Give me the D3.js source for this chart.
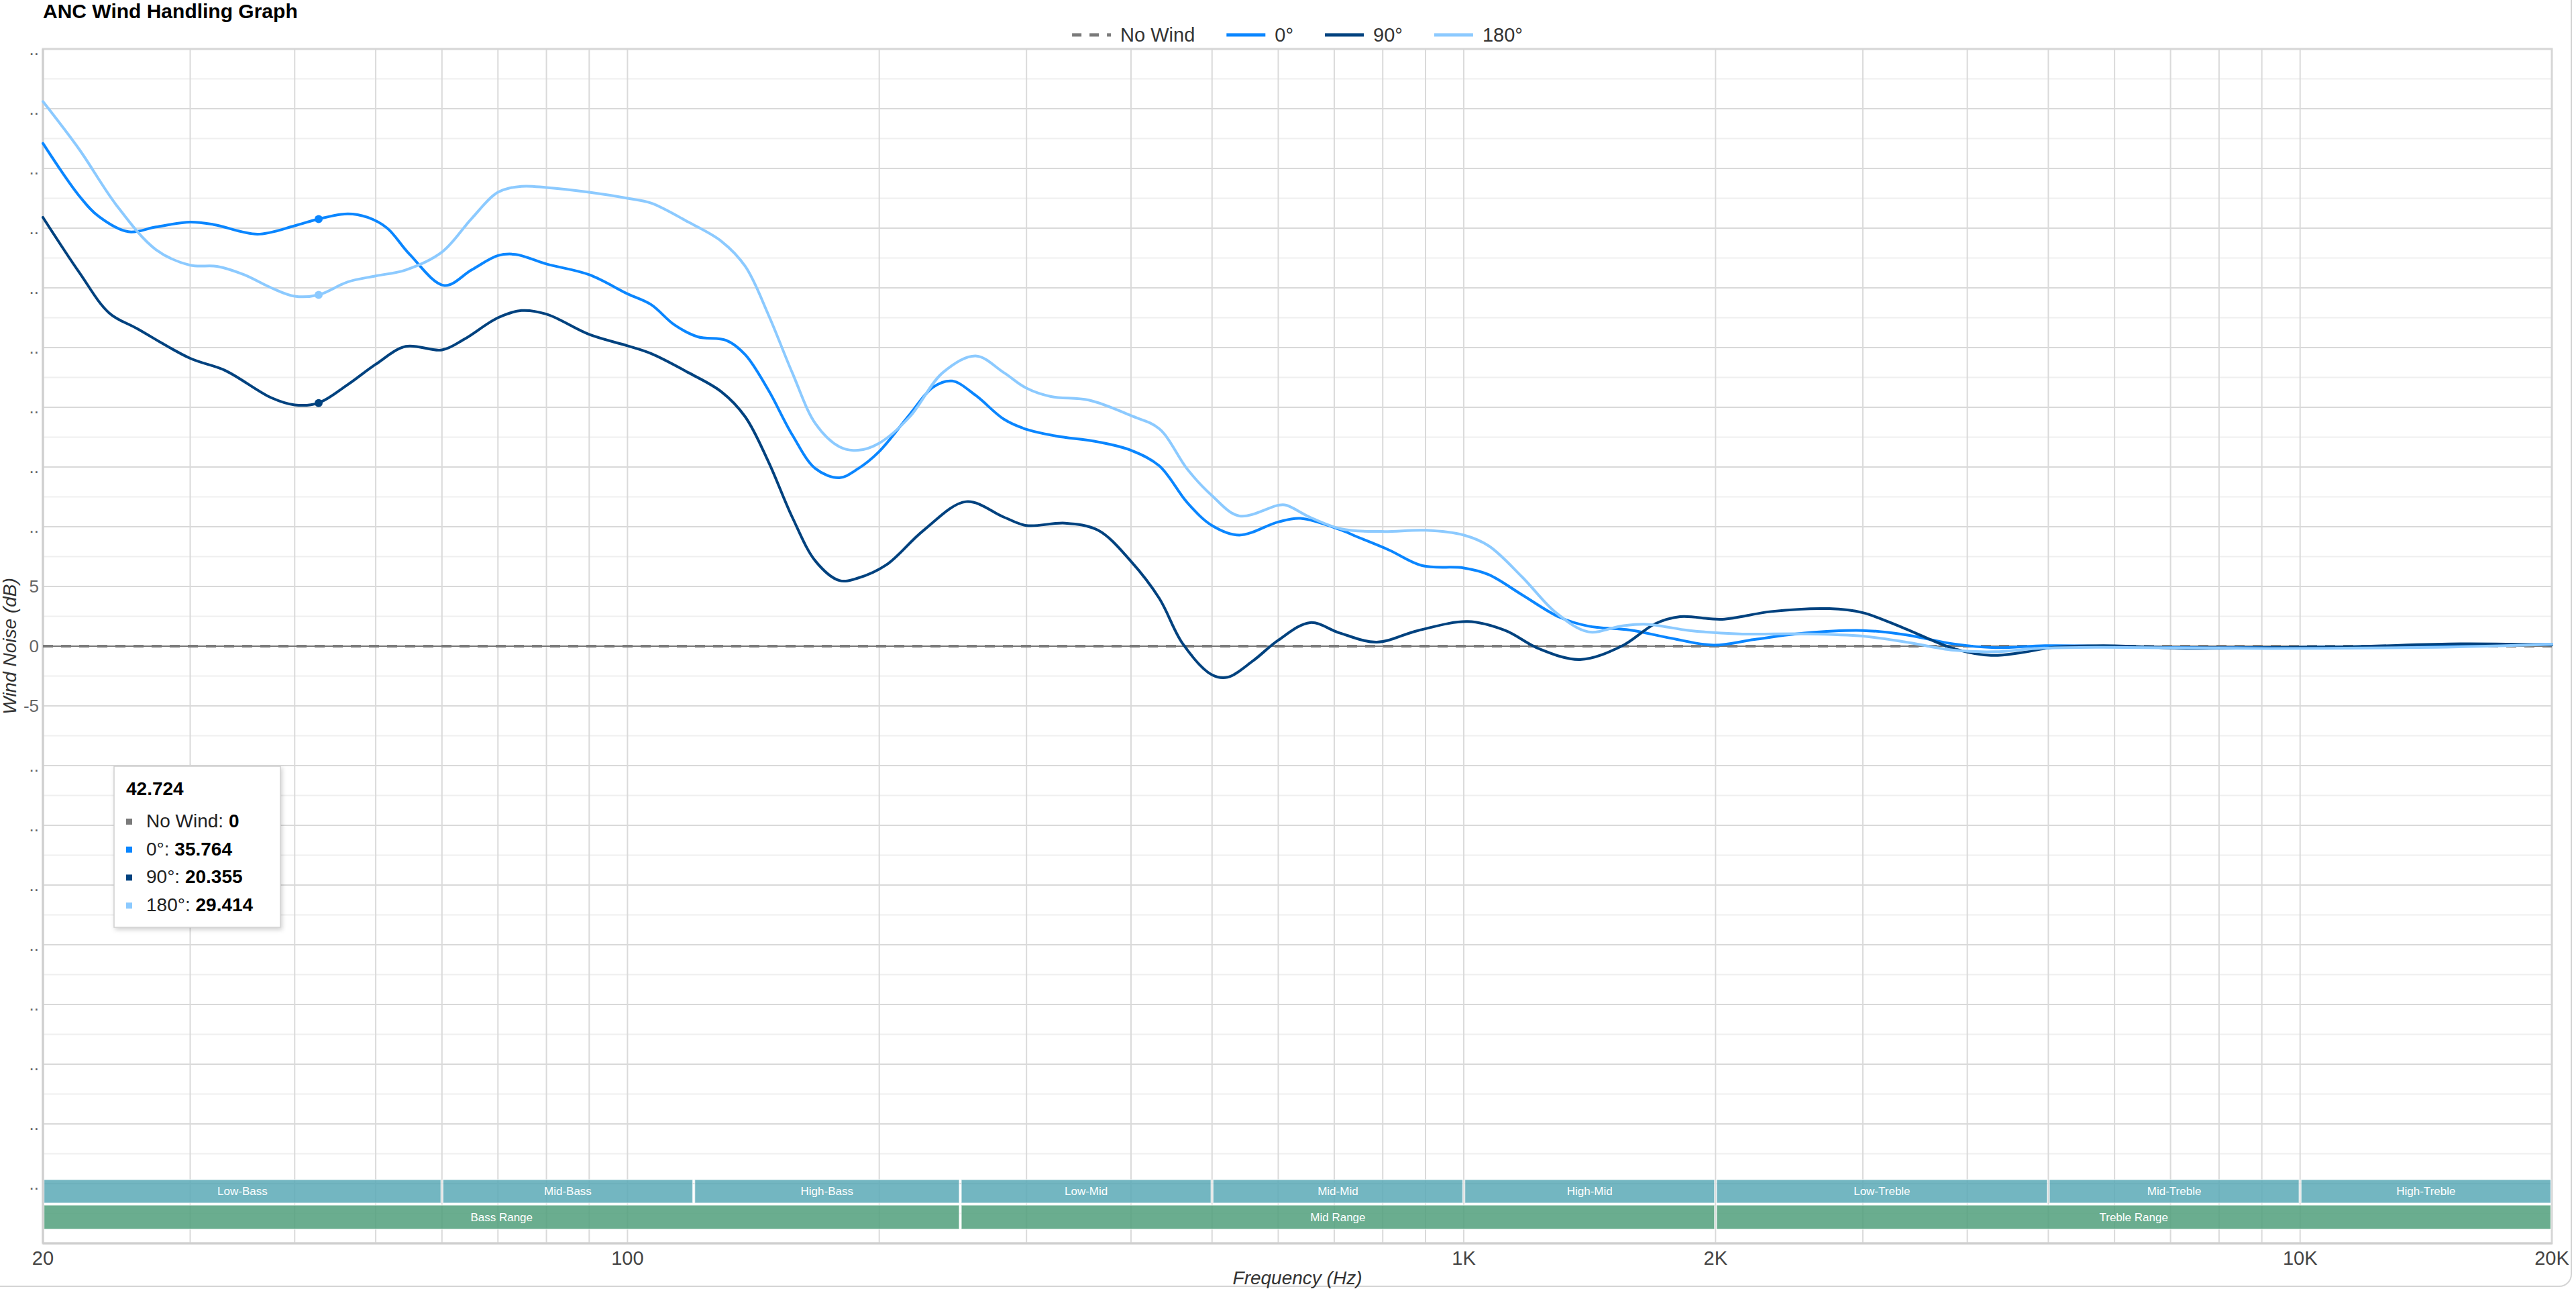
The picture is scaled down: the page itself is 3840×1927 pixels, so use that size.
<!DOCTYPE html>
<html>
<head>
<meta charset="utf-8">
<script src="https://cdn.jsdelivr.net/npm/d3@7/dist/d3.min.js"></script>
<style>
  html, body { margin: 0; padding: 0; background: #fff; }
  svg { display: block; font-family: "Liberation Sans", Arial, sans-serif; }
</style>
</head>
<body>
<svg id="chart" width="3840" height="1927"></svg>
<script>
// ---------------- DATA ----------------
const seriesNames  = ["No Wind", "0°", "90°", "180°"];
const seriesColors = ["#7a7a7a", "#0a86ff", "#00427f", "#8ccaff"];

const freqNoWind = [20, 20000];
const dbNoWind   = [0, 0];

const freq0 = [20, 22.1, 23.3, 25.3, 27.3, 30, 32, 36.1, 40, 42.7, 46.3, 48.9, 51.6, 54.9, 60.4, 65.1, 70, 73.5, 80, 90,
  100, 106.7, 113.8, 121.4, 131.3, 138.3, 147.5, 157.4, 167.9, 179.2, 188.6, 200, 217.5, 232.1, 244.5, 260.8, 281.9, 300,
  325.1, 365.4, 400, 432.4, 467.3, 500, 539, 600, 637.6, 714.9, 743, 814, 892, 1000, 1071, 1174, 1301, 1409, 1580, 1771,
  1990, 2226, 2554, 3000, 3362, 3853, 4317, 4954, 5816, 7312, 11545, 20000];
const db0 = [42.1, 37.7, 36.0, 34.7, 35.1, 35.5, 35.3, 34.5, 35.2, 35.76, 36.2, 35.9, 35.0, 32.8, 30.2, 31.5, 32.7, 32.8, 32.0, 31.1,
  29.5, 28.6, 26.9, 25.9, 25.6, 24.4, 21.4, 17.7, 14.85, 14.1, 14.85, 16.3, 19.4, 21.7, 22.2, 21.0, 19.0, 18.15,
  17.6, 17.1, 16.4, 15.1, 12.0, 10.1, 9.3, 10.4, 10.7, 9.7, 9.2, 8.05, 6.74, 6.55, 5.99, 4.3, 2.43, 1.68, 1.35, 0.66,
  0.09, 0.56, 1.09, 1.31, 0.97, 0.19, -0.13, 0.04, 0.0, -0.13, -0.06, 0.15];

const freq90 = [20, 22.1, 24.0, 25.9, 30, 33.0, 37.5, 40, 42.7, 46.3, 50, 54.3, 60, 63.8, 70, 74.7, 80, 90,
  100, 106.7, 118.3, 129.5, 138.3, 147.5, 157.4, 167.9, 179.2, 188.6, 203.9, 226, 254.1, 281.9, 300, 333.7, 365.4,
  400, 432.4, 461.3, 500, 521.9, 560.3, 600, 655, 709.6, 786.7, 881.8, 1011, 1121, 1228, 1377, 1544, 1693, 1814,
  2037, 2331, 2735, 3000, 3362, 3853, 4271, 4623, 5066, 5816, 7312, 9186, 11545, 15550, 20000];
const db90 = [35.9, 31.3, 27.9, 26.6, 24.1, 23.1, 20.8, 20.2, 20.36, 21.9, 23.6, 25.1, 24.8, 25.7, 27.5, 28.1, 27.8, 26.1,
  25.15, 24.5, 22.9, 21.3, 19.2, 15.4, 10.8, 7.1, 5.5, 5.7, 6.8, 9.7, 12.1, 10.8, 10.1, 10.3, 9.7,
  7.1, 4.0, 0.2, -2.4, -2.6, -1.2, 0.5, 1.97, 1.12, 0.34, 1.31, 2.06, 1.31, -0.19, -1.12, 0.0, 1.87, 2.47,
  2.25, 2.9, 3.14, 2.8, 1.5, -0.2, -0.77, -0.56, -0.1, 0.04, -0.19, -0.13, -0.04, 0.19, 0.1];

const freq180 = [20, 22.1, 24.5, 27.3, 30, 32.3, 34.8, 37.5, 40, 42.7, 46.3, 50, 54.3, 60, 65.1, 70, 74.7, 80, 90,
  100, 106.7, 118.3, 129.5, 138.3, 147.5, 157.4, 167.9, 179.2, 188.6, 200, 217.5, 238.2, 260.8, 281.9, 300, 320.9,
  356.1, 400, 432.4, 467.3, 500, 539, 600, 613.6, 654.6, 714.9, 800, 900, 1000, 1071, 1174, 1289, 1409, 1544, 1654,
  1862, 2134, 2554, 3000, 3362, 3853, 4317, 4840, 5816, 9186, 14510, 20000];
const db180 = [45.6, 41.6, 36.9, 33.2, 31.9, 31.8, 31.1, 30.0, 29.3, 29.41, 30.5, 31.0, 31.5, 33.0, 35.8, 38.0, 38.5, 38.4, 38.0,
  37.5, 37.1, 35.5, 33.9, 31.8, 27.7, 22.9, 18.6, 16.7, 16.4, 17.0, 19.2, 22.9, 24.3, 22.9, 21.6, 20.9,
  20.6, 19.3, 18.2, 14.8, 12.6, 10.9, 11.8, 11.8, 10.8, 9.8, 9.6, 9.7, 9.3, 8.4, 5.8, 2.8, 1.2, 1.69, 1.83,
  1.31, 1.03, 1.03, 0.84, 0.37, -0.34, -0.47, -0.19, -0.1, -0.19, -0.1, 0.15];

// x-axis tick labels
const xTickValues = [20, 100, 1000, 2000, 10000, 20000];
const xTickLabels = ["20", "100", "1K", "2K", "10K", "20K"];
// y-axis labels (only these three are readable, the others render truncated)
const yLabelValues = [50, 45, 40, 35, 30, 25, 20, 15, 10, 5, 0, -5, -10, -15, -20, -25, -30, -35, -40, -45];
const yLabelTexts  = ["..", "..", "..", "..", "..", "..", "..", "..", "..", "5", "0", "-5", "..", "..", "..", "..", "..", "..", "..", ".."];

// frequency bands
const subBandNames = ["Low-Bass", "Mid-Bass", "High-Bass", "Low-Mid", "Mid-Mid", "High-Mid", "Low-Treble", "Mid-Treble", "High-Treble"];
const subBandEdges = [20, 60, 120, 250, 500, 1000, 2000, 5000, 10000, 20000];
const rangeNames = ["Bass Range", "Mid Range", "Treble Range"];
const rangeEdges = [20, 250, 2000, 20000];

// hover tooltip
const hoverFreq = 42.724;
const hoverValues = [0, 35.764, 20.355, 29.414];

// ---------------- CHART ----------------
const svg = d3.select("#chart");
const W = 3840, H = 1927;
const plot = { left: 64, right: 3804, top: 73, bottom: 1853 };

const x = d3.scaleLog().domain([20, 20000]).range([plot.left, plot.right]);
const y = d3.scaleLinear().domain([-50, 50]).range([plot.bottom, plot.top]);

// outer container border
svg.append("rect").attr("x", -20).attr("y", -20).attr("width", 3853).attr("height", 1937)
  .attr("rx", 18).attr("fill", "#fff").attr("stroke", "#d4d4d4").attr("stroke-width", 2);

// grid
const grid = svg.append("g");
grid.selectAll(".minor").data(d3.range(-47.5, 50, 5)).join("line")
  .attr("x1", plot.left).attr("x2", plot.right)
  .attr("y1", d => y(d)).attr("y2", d => y(d))
  .attr("stroke", "#efefef").attr("stroke-width", 2);
grid.selectAll(".major").data(d3.range(-45, 50, 5)).join("line")
  .attr("x1", plot.left).attr("x2", plot.right)
  .attr("y1", d => y(d)).attr("y2", d => y(d))
  .attr("stroke", "#d9d9d9").attr("stroke-width", 2);
grid.selectAll(".vert").data(x.ticks()).join("line")
  .attr("x1", d => x(d)).attr("x2", d => x(d))
  .attr("y1", plot.top).attr("y2", plot.bottom)
  .attr("stroke", "#dadada").attr("stroke-width", 2);

// plot border
svg.append("rect").attr("x", plot.left).attr("y", plot.top)
  .attr("width", plot.right - plot.left).attr("height", plot.bottom - plot.top)
  .attr("fill", "none").attr("stroke", "#d6d6d6").attr("stroke-width", 3);

// bands
const bands = svg.append("g");
const subBands = subBandNames.map((n, i) => ({ name: n, f0: subBandEdges[i], f1: subBandEdges[i + 1] }));
const ranges = rangeNames.map((n, i) => ({ name: n, f0: rangeEdges[i], f1: rangeEdges[i + 1] }));
const row1 = { top: 1758, bottom: 1793 }, row2 = { top: 1796, bottom: 1832 };
bands.selectAll(".sb").data(subBands).join("rect")
  .attr("x", d => x(d.f0) + 1.5).attr("width", d => x(d.f1) - x(d.f0) - 3)
  .attr("y", row1.top).attr("height", row1.bottom - row1.top)
  .attr("fill", "#5aa9b6").attr("fill-opacity", 0.85)
  .attr("stroke", "#ffffff").attr("stroke-opacity", 0.6).attr("stroke-width", 1.5);
bands.selectAll(".sbt").data(subBands).join("text")
  .attr("x", d => (x(d.f0) + x(d.f1)) / 2).attr("y", (row1.top + row1.bottom) / 2)
  .attr("dy", "0.35em").attr("text-anchor", "middle")
  .attr("fill", "#fff").attr("font-size", 17).text(d => d.name);
bands.selectAll(".rb").data(ranges).join("rect")
  .attr("x", d => x(d.f0) + 1.5).attr("width", d => x(d.f1) - x(d.f0) - 3)
  .attr("y", row2.top).attr("height", row2.bottom - row2.top)
  .attr("fill", "#509f7b").attr("fill-opacity", 0.85)
  .attr("stroke", "#ffffff").attr("stroke-opacity", 0.6).attr("stroke-width", 1.5);
bands.selectAll(".rbt").data(ranges).join("text")
  .attr("x", d => (x(d.f0) + x(d.f1)) / 2).attr("y", (row2.top + row2.bottom) / 2)
  .attr("dy", "0.35em").attr("text-anchor", "middle")
  .attr("fill", "#fff").attr("font-size", 17).text(d => d.name);

// axis lines
svg.append("line").attr("x1", plot.left).attr("x2", plot.left).attr("y1", plot.top).attr("y2", plot.bottom)
  .attr("stroke", "#cfcfcf").attr("stroke-width", 3);
svg.append("line").attr("x1", plot.left).attr("x2", plot.right).attr("y1", plot.bottom).attr("y2", plot.bottom)
  .attr("stroke", "#cfcfcf").attr("stroke-width", 3);

// zero plot line
svg.append("line").attr("x1", plot.left).attr("x2", plot.right).attr("y1", y(0)).attr("y2", y(0))
  .attr("stroke", "#555").attr("stroke-width", 1.5);

// series
const line = d3.line().x(d => x(d.f)).y(d => y(d.v)).curve(d3.curveCatmullRom.alpha(0.5));
const zip = (fs, vs) => fs.map((f, i) => ({ f: f, v: vs[i] }));
const seriesData = [zip(freqNoWind, dbNoWind), zip(freq0, db0), zip(freq90, db90), zip(freq180, db180)];
const lines = svg.append("g").attr("fill", "none");
seriesData.forEach((data, i) => {
  const p = lines.append("path").datum(data).attr("d", line)
    .attr("stroke", seriesColors[i]).attr("stroke-width", 4)
    .attr("stroke-linejoin", "round").attr("stroke-linecap", "round");
  if (i === 0) p.attr("stroke-dasharray", "15,12").attr("stroke-linecap", "butt");
});

// hover markers
svg.append("g").selectAll("circle").data(hoverValues.slice(1)).join("circle")
  .attr("cx", x(hoverFreq)).attr("cy", d => y(d)).attr("r", 6)
  .attr("fill", (d, i) => seriesColors[i + 1]);

// x tick labels
svg.append("g").selectAll("text").data(xTickValues).join("text")
  .attr("x", d => x(d)).attr("y", 1885).attr("text-anchor", "middle")
  .attr("font-size", 29).attr("fill", "#444")
  .text((d, i) => xTickLabels[i]);

// y tick labels
svg.append("g").selectAll("text").data(yLabelValues).join("text")
  .attr("x", 58).attr("y", d => y(d)).attr("dy", "0.35em").attr("text-anchor", "end")
  .attr("font-size", 26).attr("fill", "#666")
  .text((d, i) => yLabelTexts[i]);

// axis titles
svg.append("text").attr("x", (plot.left + plot.right) / 2).attr("y", 1914)
  .attr("text-anchor", "middle").attr("font-size", 28).attr("font-style", "italic").attr("fill", "#333")
  .text("Frequency (Hz)");
svg.append("text").attr("transform", `translate(24,${(plot.top + plot.bottom) / 2}) rotate(-90)`)
  .attr("text-anchor", "middle").attr("font-size", 28).attr("font-style", "italic").attr("fill", "#333")
  .text("Wind Noise (dB)");

// title
svg.append("text").attr("x", 64).attr("y", 27).attr("font-size", 30).attr("font-weight", "bold")
  .attr("fill", "#000").text("ANC Wind Handling Graph");

// legend
const legend = svg.append("g");
let lx = 0;
const items = [];
seriesNames.forEach((n, i) => {
  const g = legend.append("g");
  const l = g.append("line").attr("x1", 0).attr("x2", 58).attr("y1", 52).attr("y2", 52)
    .attr("stroke", seriesColors[i]).attr("stroke-width", 5);
  if (i === 0) l.attr("stroke-dasharray", "14,12");
  const t = g.append("text").attr("x", 72).attr("y", 62).attr("font-size", 29).attr("fill", "#333").text(n);
  const w = 72 + t.node().getComputedTextLength();
  g.attr("transform", `translate(${lx},0)`);
  lx += w + 47;
});
const legendW = lx - 47;
legend.attr("transform", `translate(${(plot.left + plot.right) / 2 - legendW / 2},0)`);

// tooltip
const defs = svg.append("defs");
const f = defs.append("filter").attr("id", "shadow").attr("x", "-10%").attr("y", "-10%").attr("width", "130%").attr("height", "130%");
f.append("feDropShadow").attr("dx", 2).attr("dy", 3).attr("stdDeviation", 3).attr("flood-color", "#000").attr("flood-opacity", 0.18);
const tip = svg.append("g").attr("transform", "translate(170,1142)");
tip.append("rect").attr("width", 248).attr("height", 240).attr("fill", "#fff")
  .attr("stroke", "#cfcfcf").attr("stroke-width", 1.5).attr("filter", "url(#shadow)");
tip.append("text").attr("x", 18).attr("y", 43).attr("font-size", 28).attr("font-weight", "bold").attr("fill", "#000")
  .text(String(hoverFreq));
seriesNames.forEach((n, i) => {
  const by = 91 + i * 41.7;
  tip.append("rect").attr("x", 18).attr("y", by - 13).attr("width", 9).attr("height", 9).attr("fill", seriesColors[i]);
  const t = tip.append("text").attr("x", 48).attr("y", by).attr("font-size", 28).attr("fill", "#222");
  t.append("tspan").text(n + ": ");
  t.append("tspan").attr("font-weight", "bold").attr("fill", "#000").text(String(hoverValues[i]));
});
</script>
</body>
</html>
